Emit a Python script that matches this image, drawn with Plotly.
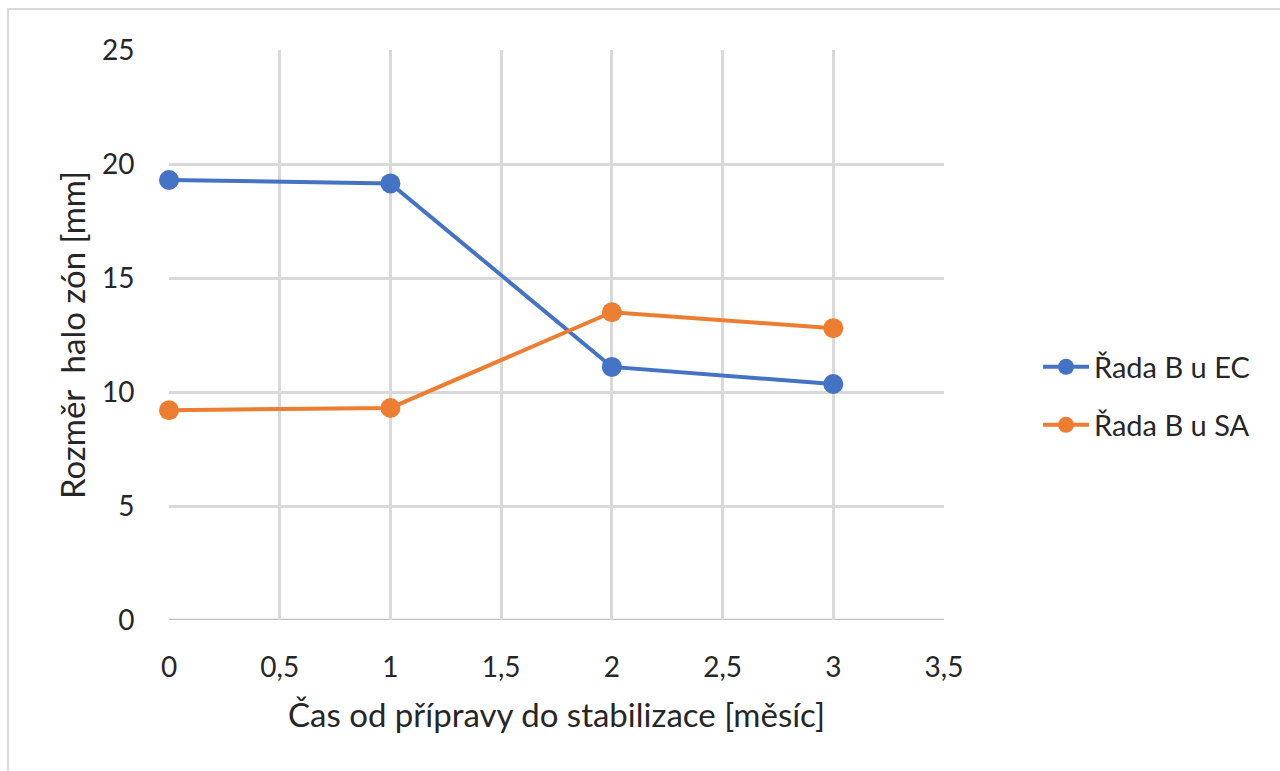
import plotly.graph_objects as go

months = [0, 1, 2, 3]
ec_values = [19.3, 19.15, 11.1, 10.35]
sa_values = [9.2, 9.3, 13.5, 12.8]
series_names = ["Řada B u EC", "Řada B u SA"]
x_title = "Čas od přípravy do stabilizace [měsíc]"
y_title = "Rozměr  halo zón [mm]"

FONT = "Lato"
TXT = "#262626"

fig = go.Figure()
fig.add_trace(go.Scatter(x=months, y=ec_values, name=series_names[0], mode="lines+markers",
                         line=dict(color="#4472C4", width=4), marker=dict(size=20, color="#4472C4"),
                         cliponaxis=False, showlegend=True, legend="legend"))
fig.add_trace(go.Scatter(x=months, y=sa_values, name=series_names[1], mode="lines+markers",
                         line=dict(color="#ED7D31", width=4), marker=dict(size=20, color="#ED7D31"),
                         cliponaxis=False, showlegend=True, legend="legend2"))

L, R, T, B = 169, 944, 50, 620
W, H = 1280, 771
pw, ph = R - L, B - T

def px2x(px):
    return (px - L) / pw

def py2y(py):
    return (B - py) / ph

fig.update_layout(
    width=W, height=H,
    margin=dict(l=L, r=W - R, t=T, b=H - B),
    paper_bgcolor="white", plot_bgcolor="white",
    separators=", ",
    showlegend=True,
    font=dict(family=FONT, size=28, color=TXT),
    legend=dict(x=px2x(1038), y=py2y(367), xanchor="left", yanchor="middle", itemwidth=46,
                font=dict(family=FONT, size=29, color=TXT), bgcolor="rgba(0,0,0,0)"),
    legend2=dict(x=px2x(1038), y=py2y(425), xanchor="left", yanchor="middle", itemwidth=46,
                 font=dict(family=FONT, size=29, color=TXT), bgcolor="rgba(0,0,0,0)"),
    shapes=[dict(type="rect", xref="paper", yref="paper",
                 x0=px2x(8), x1=px2x(1290), y0=py2y(790), y1=py2y(9),
                 line=dict(color="#d9d9d9", width=2), layer="below")],
)
fig.update_xaxes(range=[0, 3.5], dtick=0.5, tick0=0, showgrid=True, gridcolor="#d9d9d9", gridwidth=2.5,
                 zeroline=False, showline=False,
                 ticks="outside", ticklen=22, tickcolor="rgba(0,0,0,0)",
                 tickfont=dict(family=FONT, size=28, color=TXT),
                 title=dict(text=x_title, font=dict(family=FONT, size=33, color=TXT), standoff=22))
fig.update_yaxes(range=[0, 25], dtick=5, showgrid=True, gridcolor="#d9d9d9", gridwidth=2.5,
                 zeroline=False, showline=False,
                 ticks="outside", ticklen=28, tickcolor="rgba(0,0,0,0)",
                 tickfont=dict(family=FONT, size=28, color=TXT),
                 title=dict(text=y_title, font=dict(family=FONT, size=33, color=TXT), standoff=6))
fig.add_hline(y=0, line=dict(color="#bfbfbf", width=2.5), layer="below")

fig.write_html("out.html")
